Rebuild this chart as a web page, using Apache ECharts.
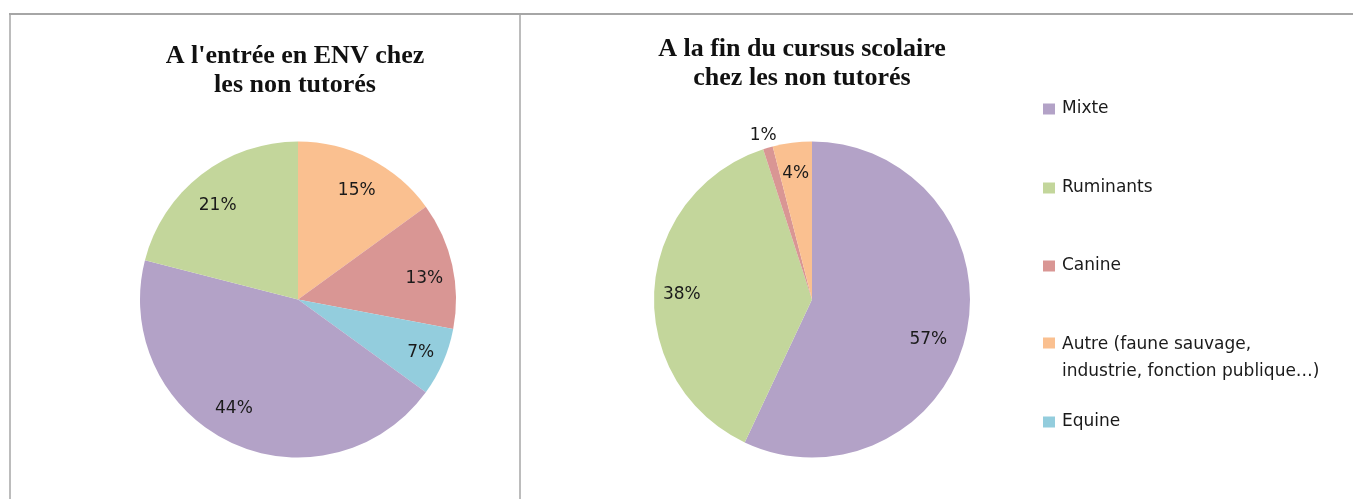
<!DOCTYPE html>
<html>
<head>
<meta charset="utf-8">
<script src="https://cdn.jsdelivr.net/npm/echarts@6/dist/echarts.min.js"></script>
<style>
  html, body { margin: 0; padding: 0; background: #fff; }
  #chart { width: 1353px; height: 499px; }
</style>
</head>
<body>
<div id="chart"></div>
<script>
  // * données (en %)
  var categories = ['Mixte', 'Ruminants', 'Canine', 'Autre (faune sauvage, industrie, fonction publique…)', 'Equine']
  var entreeNames = ['Autre (faune sauvage, industrie, fonction publique…)', 'Canine', 'Equine', 'Mixte', 'Ruminants']
  var entreeValues = [15, 13, 7, 44, 21]
  var finNames = ['Mixte', 'Ruminants', 'Canine', 'Autre (faune sauvage, industrie, fonction publique…)']
  var finValues = [57, 38, 1, 4]

  var colors = {
    'Mixte': '#b3a2c7',
    'Ruminants': '#c3d69b',
    'Canine': '#d99694',
    'Autre (faune sauvage, industrie, fonction publique…)': '#fac090',
    'Equine': '#93cddd'
  }

  var R = 158
  var labelFont = { fontFamily: 'DejaVu Sans', fontSize: 17, color: '#1a1a1a' }

  // petits décalages des étiquettes (placement "ajusté" d'Excel)
  var entreeNudge = [[0, 6], [0, 7], [4, 2], [-9, -8], [-1, 8]]
  var finNudge = [[-10, 12], [-1, 3], [16, -5], [0, 2]]

  function buildData (names, values, outside) {
    var res = []
    for (var i = 0; i < names.length; i++) {
      var item = { name: names[i], value: values[i], itemStyle: { color: colors[names[i]] } }
      if (outside && outside.indexOf(i) > -1) {
        item.label = { position: 'outside' }
      }
      res.push(item)
    }
    return res
  }

  // pie visible (sans label)
  function pieSeries (center, names, values) {
    return {
      type: 'pie',
      center: center,
      radius: [0, R],
      startAngle: 90,
      clockwise: true,
      silent: true,
      label: { show: false },
      labelLine: { show: false },
      itemStyle: { borderWidth: 0 },
      data: buildData(names, values)
    }
  }

  // anneau transparent qui porte seulement les étiquettes (~0.8 r comme Excel)
  function labelSeries (center, names, values, nudge, outside) {
    var data = buildData(names, values, outside)
    data.forEach(function (d) { d.itemStyle = { color: 'rgba(0,0,0,0)' } })
    return {
      type: 'pie',
      center: center,
      radius: [R * 0.6, R],
      startAngle: 90,
      clockwise: true,
      silent: true,
      label: Object.assign({ show: true, position: 'inside', formatter: '{c}%' }, labelFont),
      labelLine: { show: false, length: 8, length2: 0 },
      labelLayout: function (p) {
        var n = nudge[p.dataIndex] || [0, 0]
        return { dx: n[0], dy: n[1] }
      },
      data: data
    }
  }

  var legendTops = [99, 178, 256, 331, 412]
  var legends = []
  categories.forEach(function (name, i) {
    var lg = {
      data: [name],
      left: 1043,
      top: legendTops[i],
      padding: 0,
      orient: 'vertical',
      itemWidth: 12,
      itemHeight: 11,
      icon: 'rect',
      selectedMode: false,
      textStyle: { fontFamily: 'DejaVu Sans', fontSize: 17, lineHeight: 20, color: '#1a1a1a', padding: [0, 0, 0, 2] }
    }
    if (i === 3) {
      // icône alignée sur la première ligne
      lg.icon = 'path://M0,0H12V11H0Z M0,41H12'
      lg.itemHeight = 41
      lg.formatter = function () { return 'Autre (faune sauvage,\nindustrie, fonction publique…)' }
      lg.textStyle.lineHeight = 27
    }
    legends.push(lg)
  })

  var titleStyle = { fontFamily: 'Liberation Serif', fontWeight: 'bold', fontSize: 26, color: '#111', lineHeight: 29 }

  var option = {
    backgroundColor: '#fff',
    animation: false,
    title: [
      { text: "A l'entrée en ENV chez\nles non tutorés", left: 290, top: 37, textAlign: 'center', textStyle: titleStyle },
      { text: 'A la fin du cursus scolaire\nchez les non tutorés', left: 797, top: 30, textAlign: 'center', textStyle: titleStyle }
    ],
    legend: legends,
    graphic: [
      { type: 'line', shape: { x1: 9, y1: 14, x2: 1353, y2: 14 }, style: { stroke: '#a6a6a6', lineWidth: 2 } },
      { type: 'line', shape: { x1: 10, y1: 14, x2: 10, y2: 499 }, style: { stroke: '#a6a6a6', lineWidth: 1.5 } },
      { type: 'line', shape: { x1: 520, y1: 14, x2: 520, y2: 499 }, style: { stroke: '#a6a6a6', lineWidth: 1.5 } }
    ],
    series: [
      pieSeries([298, 299.5], entreeNames, entreeValues),
      pieSeries([812, 299.5], finNames, finValues),
      labelSeries([298, 299.5], entreeNames, entreeValues, entreeNudge),
      labelSeries([812, 299.5], finNames, finValues, finNudge, [2])
    ]
  }

  var chart = echarts.init(document.getElementById('chart'))
  chart.setOption(option)
</script>
</body>
</html>
